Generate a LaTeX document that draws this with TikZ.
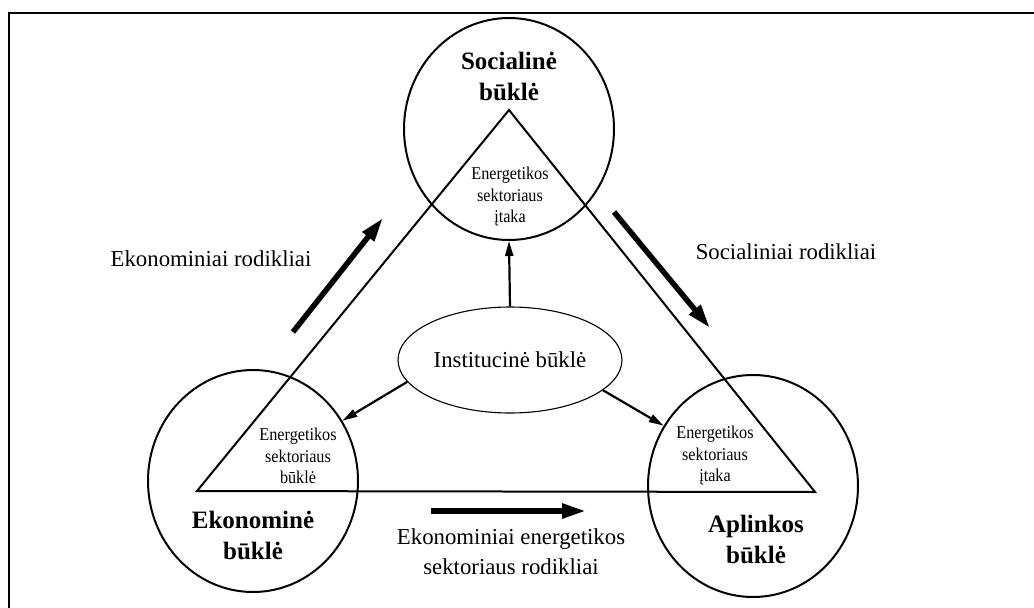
\documentclass[tikz,border=0pt]{standalone}
\usepackage{fontspec}
\setmainfont{Liberation Serif}
\newfontfamily\narrowfont[FakeStretch=0.9]{Liberation Serif}
\usetikzlibrary{shapes.geometric,arrows.meta}
\begin{document}
\begin{tikzpicture}[x=1pt,y=-1pt,
  bigc/.style={ellipse, draw, line width=2pt, minimum width=210pt, minimum height=222pt, inner sep=0pt},
  inst/.style={ellipse, draw, line width=1.1pt, minimum width=224pt, minimum height=106pt, inner sep=0pt, font=\fontsize{22.8}{27}\selectfont},
  tri/.style={line width=2pt},
  thinarrow/.style={line width=2.2pt, -{Triangle[length=15pt,width=8pt]}},
  thickarrow/.style={line width=5.5pt, -{Triangle[length=24pt,width=14pt]}},
  lbl/.style={font=\fontsize{22.8}{30}\selectfont, align=center, inner sep=0pt},
  boldlbl/.style={font=\fontsize{25}{31}\selectfont\bfseries, align=center, inner sep=0pt},
  small/.style={font=\narrowfont\fontsize{18}{21.5}\selectfont, align=center, inner sep=0pt},
  frame/.style={line width=2pt}
]
\useasboundingbox (0,0) rectangle (1034,608);
\coordinate (fbl) at (9,608);
\coordinate (ftl) at (9,13);
\coordinate (ftr) at (1034,13);
\draw[frame] (fbl) -- (ftl) -- (ftr);

% circles
\node[bigc] (soc) at (509,129) {};
\node[bigc] (ekon) at (253,481) {};
\node[bigc] (apl) at (753,486) {};

% triangle
\coordinate (ta) at (509,110);
\coordinate (tl) at (197,491);
\coordinate (tr) at (815,492);
\draw[tri] (ta) -- (tl) -- (tr) -- cycle;

% central ellipse
\node[inst] (ins) at (510,360) {Institucinė būklė};

% thin arrows
\draw[thinarrow] (ins.north) -- (soc.south);
\draw[thinarrow] (ins.192) -- (ekon.34);
\draw[thinarrow] (ins.342) -- (apl.146);

% thick arrows
\coordinate (a1s) at (293,332);
\coordinate (a1e) at (383,218);
\coordinate (a2s) at (614,212);
\coordinate (a2e) at (710,328);
\coordinate (a3s) at (431,511);
\coordinate (a3e) at (586,511);
\draw[thickarrow] (a1s) -- (a1e);
\draw[thickarrow] (a2s) -- (a2e);
\draw[thickarrow] (a3s) -- (a3e);

% labels
\node[boldlbl] (socl) at (509,76) {Socialinė\\būklė};
\node[boldlbl] (ekonl) at (253,535) {Ekonominė\\būklė};
\node[boldlbl] (apll) at (756,539) {Aplinkos\\būklė};

\node[small] (soct) at (510,197) {Energetikos\\sektoriaus\\įtaka};
\node[small] (ekont) at (298,456) {Energetikos\\sektoriaus\\būklė};
\node[small] (aplt) at (715,456) {Energetikos\\sektoriaus\\įtaka};

\node[lbl] (ekr) at (211,259) {Ekonominiai rodikliai};
\node[lbl] (socr) at (786,252) {Socialiniai rodikliai};
\node[lbl] (eer) at (511,552) {Ekonominiai energetikos\\sektoriaus rodikliai};
\end{tikzpicture}
\end{document}
